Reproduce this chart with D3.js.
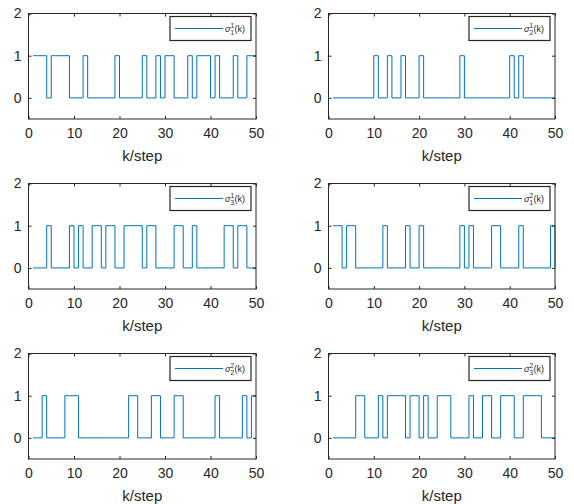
<!DOCTYPE html>
<html>
<head>
<meta charset="utf-8">
<script src="https://cdn.jsdelivr.net/npm/d3@7"></script>
<style>
  body { margin: 0; background: #fff; }
  svg { display: block; font-family: "Liberation Sans", Arial, sans-serif; }
</style>
</head>
<body>
<svg id="chart" width="574" height="504"></svg>
<script>
// switching signals, value at each step k = 1..50 (stairs)
var steps = d3.range(1, 51);
var sigma11 = [1,1,1,0,1,1,1,1,0,0, 0,1,0,0,0,0,0,0,1,0, 0,0,0,0,1,0,0,1,0,1, 1,0,0,0,1,0,1,1,1,0, 1,0,0,0,1,0,0,1,1,1];
var sigma21 = [0,0,0,0,0,0,0,0,0,1, 0,0,1,0,0,1,0,0,0,1, 0,0,0,0,0,0,0,0,1,0, 0,0,0,0,0,0,0,0,0,1, 0,1,0,0,0,0,0,0,0,0];
var sigma31 = [0,0,0,1,0,0,0,0,1,0, 1,0,0,1,1,0,1,1,0,0, 1,1,1,1,0,1,1,0,0,0, 0,1,1,0,0,1,0,0,0,0, 0,0,1,1,0,1,1,0,0,0];
var sigma12 = [1,1,0,1,1,0,0,0,0,0, 0,1,0,0,0,0,1,0,0,1, 0,0,0,0,0,0,0,0,1,0, 1,0,0,0,0,1,1,0,0,0, 0,1,0,0,0,0,0,0,1,0];
var sigma22 = [0,0,1,0,0,0,0,1,1,1, 0,0,0,0,0,0,0,0,0,0, 0,1,1,0,0,0,1,1,0,0, 0,1,1,0,0,0,0,0,0,0, 1,0,0,0,0,0,1,0,1,1];
var sigma32 = [0,0,0,0,0,1,1,0,0,0, 1,0,1,1,1,1,0,1,1,0, 1,0,0,1,1,1,0,0,0,0, 1,0,0,1,1,0,0,1,1,1, 0,0,1,1,1,1,0,0,0,0];

var panelSeries = [sigma11, sigma21, sigma31, sigma12, sigma22, sigma32];
// legend labels: [superscript, subscript]
var panelLabels = [['1', '1'], ['1', '2'], ['1', '3'], ['2', '1'], ['2', '2'], ['2', '3']];
var xTicks = [0, 10, 20, 30, 40, 50];
var yTicks = [0, 1, 2];
var xLabel = 'k/step';

(function (d3) {
  'use strict';
  var svg = d3.select('#chart');
  var axisColor = '#262626';
  var lineColor = '#0072BD';

  var colLeft = [28.5, 328.5];
  var colRight = [256, 555];
  var rowTop = [13.5, 183.5, 353.5];
  var plotHeight = 105.5;

  var drawPanel = function (index) {
    var col = index % 2;
    var row = Math.floor(index / 2);
    var left = colLeft[col];
    var right = colRight[col];
    var top = rowTop[row];
    var bottom = top + plotHeight;

    var x = d3.scaleLinear().domain([0, 50]).range([left, right]);
    var y = d3.scaleLinear().domain([-0.5, 2]).range([bottom, top]);

    var g = svg.append('g').attr('class', 'panel');

    /** signal */
    var values = panelSeries[index];
    var stairs = d3.line()
      .x(function (d, i) { return x(steps[i]); })
      .y(function (d) { return y(d); })
      .curve(d3.curveStepAfter);
    g.append('path')
      .attr('d', stairs(values))
      .attr('fill', 'none')
      .attr('stroke', lineColor)
      .attr('stroke-width', 1);

    /** axes: ticks inward, box on */
    var xAxis = d3.axisBottom(x).tickValues(xTicks).tickSize(-3).tickPadding(9).tickFormat(d3.format('d'));
    var yAxis = d3.axisLeft(y).tickValues(yTicks).tickSize(-3).tickPadding(7).tickFormat(d3.format('d'));
    var xTop = d3.axisTop(x).tickValues(xTicks).tickSize(-3).tickFormat('');
    var yRight = d3.axisRight(y).tickValues(yTicks).tickSize(-3).tickFormat('');

    var styleAxis = function (sel) {
      sel.selectAll('path').attr('stroke', axisColor);
      sel.selectAll('line').attr('stroke', axisColor);
      sel.selectAll('text').attr('fill', axisColor).style('font-size', '14px')
        .style('font-family', '"Liberation Sans", Arial, sans-serif');
    };

    styleAxis(g.append('g').attr('transform', 'translate(0,' + bottom + ')').call(xAxis));
    styleAxis(g.append('g').attr('transform', 'translate(' + left + ',0)').call(yAxis));
    styleAxis(g.append('g').attr('transform', 'translate(0,' + top + ')').call(xTop));
    styleAxis(g.append('g').attr('transform', 'translate(' + right + ',0)').call(yRight));
    g.selectAll('.domain').attr('d', null);
    g.append('rect')
      .attr('x', left).attr('y', top)
      .attr('width', right - left).attr('height', plotHeight)
      .attr('fill', 'none').attr('stroke', axisColor).attr('stroke-width', 1);

    g.append('text')
      .attr('x', (left + right) / 2)
      .attr('y', bottom + 42)
      .attr('text-anchor', 'middle')
      .attr('fill', axisColor)
      .style('font-size', '15px')
      .text(xLabel);

    /** legend */
    var legRight = right - 5;
    var legLeft = legRight - 81;
    var legTop = top + 3;
    var legH = 24;
    var leg = g.append('g').attr('class', 'legend');
    leg.append('rect')
      .attr('x', legLeft).attr('y', legTop)
      .attr('width', legRight - legLeft).attr('height', legH)
      .attr('fill', '#fff').attr('stroke', axisColor).attr('stroke-width', 1.2);
    var ly = legTop + legH / 2;
    leg.append('line')
      .attr('x1', legLeft + 5).attr('x2', legLeft + 53)
      .attr('y1', ly).attr('y2', ly)
      .attr('stroke', lineColor).attr('stroke-width', 1);
    var tx = legLeft + 55;
    var label = panelLabels[index];
    leg.append('text').attr('x', tx).attr('y', ly + 3).attr('fill', axisColor)
      .style('font-size', '9px').style('font-style', 'italic').text('\u03C3');
    leg.append('text').attr('x', tx + 5.5).attr('y', ly - 1).attr('fill', axisColor)
      .style('font-size', '6.5px').text(label[0]);
    leg.append('text').attr('x', tx + 5.5).attr('y', ly + 6).attr('fill', axisColor)
      .style('font-size', '6.5px').text(label[1]);
    leg.append('text').attr('x', tx + 9.5).attr('y', ly + 3).attr('fill', axisColor)
      .style('font-size', '9px').text('(k)');
  };

  for (var i = 0; i < panelSeries.length; i++) {
    drawPanel(i);
  }
})(d3);
</script>
</body>
</html>
